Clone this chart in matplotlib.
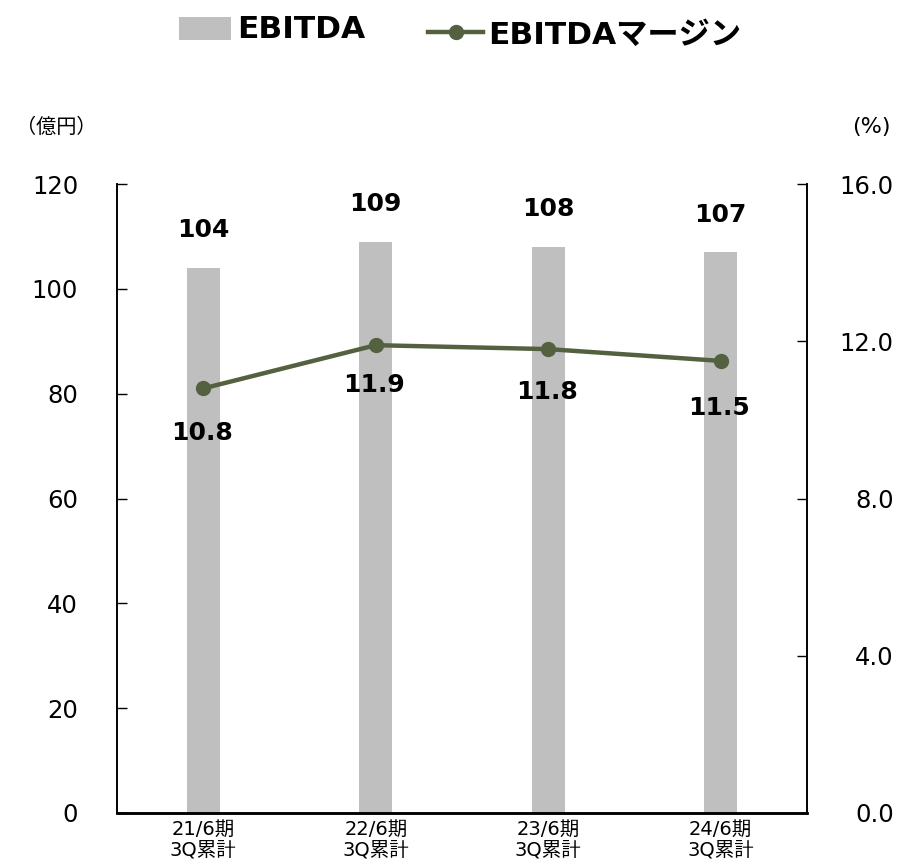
import matplotlib.pyplot as plt
from matplotlib.lines import Line2D
from matplotlib.patches import Rectangle

plt.rcParams["font.family"] = ["DejaVu Sans", "Noto Sans CJK JP"]

periods = ["21/6期\n3Q累計", "22/6期\n3Q累計", "23/6期\n3Q累計", "24/6期\n3Q累計"]
ebitda = [104, 109, 108, 107]
margin = [10.8, 11.9, 11.8, 11.5]
left_ticks = [0, 20, 40, 60, 80, 100, 120]
right_ticks = [0, 4, 8, 12, 16]

BAR = "#bfbfbf"
LINE = "#546141"
INK = "#000000"

W, H = 914, 868
fig = plt.figure(figsize=(W / 100, H / 100), dpi=100)
ax = fig.add_axes([117 / W, 55 / H, 690 / W, 629 / H])
ax2 = ax.twinx()

x = range(len(periods))
ax.bar(x, ebitda, width=0.19, color=BAR, zorder=1)
ax.set_xlim(-0.5, len(periods) - 0.5)
ax.set_ylim(0, 120)
ax.set_yticks(left_ticks)
ax.set_xticks(list(x))
ax.set_xticklabels(periods, fontsize=14, linespacing=1.1)
ax.tick_params(axis="x", length=0, pad=5)
ax.tick_params(axis="y", direction="in", length=7, width=1, labelsize=17.5, pad=28)

ax2.plot(x, margin, color=LINE, lw=3.2, marker="o", ms=10, zorder=3)
ax2.set_ylim(0, 16)
ax2.set_yticks(right_ticks)
ax2.set_yticklabels([f"{v:.1f}" for v in right_ticks])
ax2.tick_params(axis="y", direction="in", length=7, width=1, labelsize=17.5, pad=62.5)
for lab in ax2.get_yticklabels():
    lab.set_horizontalalignment("right")

for a in (ax, ax2):
    a.spines["top"].set_visible(False)
    a.spines["left"].set_linewidth(1.2)
    a.spines["right"].set_linewidth(1.2)
    a.spines["bottom"].set_linewidth(1.8)

# bar values above, margin values below the points
for i, v in enumerate(ebitda):
    ax.annotate(f"{v}", (i, v), xytext=(0, 27), textcoords="offset points",
                ha="center", va="center", fontsize=18, fontweight="bold", color=INK)

label_dy = [-32, -29, -31, -34]
for i, v in enumerate(margin):
    ax2.annotate(f"{v:.1f}", (i, v), xytext=(-1, label_dy[i]), textcoords="offset points",
                 ha="center", va="center", fontsize=18, fontweight="bold", color=INK,
                 zorder=4)

fig.text(56 / W, 1 - 127 / H, "（億円）", ha="center", va="center", fontsize=14.5,
         family=["Noto Sans CJK JP", "DejaVu Sans"])
fig.text(871 / W, 1 - 127 / H, "(%)", ha="center", va="center", fontsize=16)

# legend drawn in figure pixels
fig.patches.append(Rectangle((179 / W, 1 - 40 / H), 52 / W, 23 / H,
                             transform=fig.transFigure, facecolor=BAR, edgecolor="none"))
fig.text(237 / W, 1 - 38 / H, "EBITDA", ha="left", va="baseline",
         fontsize=22.5, fontweight="bold")
fig.lines.append(Line2D([428 / W, 483 / W], [1 - 32 / H, 1 - 32 / H],
                        transform=fig.transFigure, color=LINE, lw=3.2))
fig.lines.append(Line2D([456 / W], [1 - 32 / H], transform=fig.transFigure,
                        color=LINE, marker="o", ms=10))
fig.text(488 / W, 1 - 44 / H, "EBITDAマージン", ha="left", va="baseline",
         fontsize=22.5, fontweight="bold")

fig.savefig("out.png", dpi=100, facecolor="white")
